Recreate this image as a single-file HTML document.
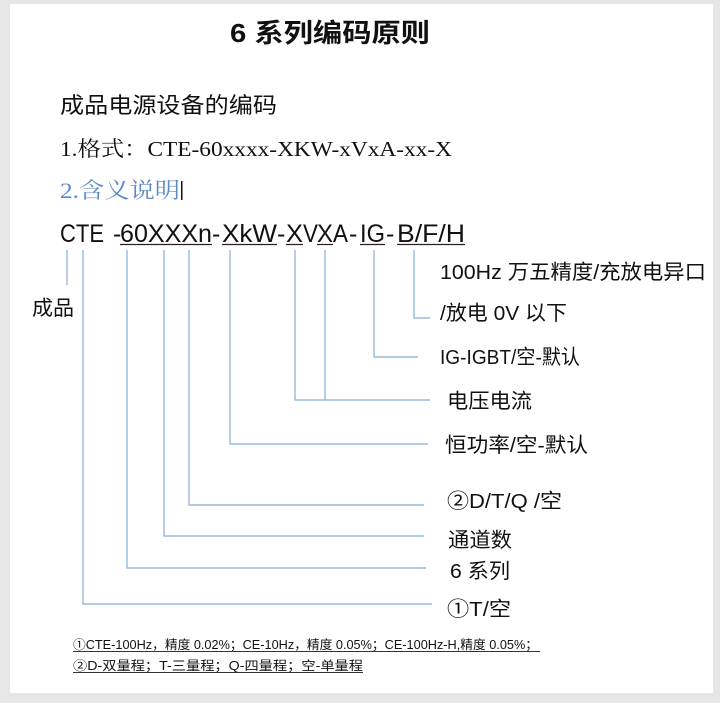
<!DOCTYPE html>
<html><head><meta charset="utf-8"><style>
body{margin:0;background:#e6e6e6;}
svg{display:block}
text{font-family:"Liberation Sans","Noto Sans CJK SC",sans-serif;fill:#111}
</style></head><body>
<svg width="720" height="703" viewBox="0 0 720 703" xmlns="http://www.w3.org/2000/svg">
<rect x="0" y="0" width="720" height="703" fill="#e6e6e6"/>
<rect x="10" y="4" width="703" height="689" fill="#fff"/>
<text x="230" y="42" font-size="26" font-weight="bold" textLength="200" lengthAdjust="spacingAndGlyphs">6 系列编码原则</text>
<text x="60" y="113" font-size="22" textLength="217" lengthAdjust="spacingAndGlyphs">成品电源设备的编码</text>
<text x="60" y="156" font-size="21" style="font-family:'Liberation Serif','Noto Serif CJK SC',serif" textLength="392" lengthAdjust="spacingAndGlyphs">1.格式：CTE-60xxxx-XKW-xVxA-xx-X</text>
<text x="60" y="198" font-size="22" style="font-family:'Liberation Serif','Noto Serif CJK SC',serif;fill:#5b8ac4" textLength="120" lengthAdjust="spacingAndGlyphs">2.含义说明</text>
<rect x="181" y="181" width="1.5" height="19" fill="#111"/>
<g font-size="25">
<text x="60" y="242" textLength="44" lengthAdjust="spacingAndGlyphs">CTE</text>
<text x="113" y="242">-</text>
<text x="120" y="242" textLength="92" lengthAdjust="spacingAndGlyphs">60XXXn</text>
<text x="212" y="242">-</text>
<text x="222" y="242" textLength="55" lengthAdjust="spacingAndGlyphs">XkW</text>
<text x="277" y="242">-</text>
<text x="286" y="242" textLength="17" lengthAdjust="spacingAndGlyphs">X</text>
<text x="303" y="242" textLength="15" lengthAdjust="spacingAndGlyphs">V</text>
<text x="317" y="242" textLength="16" lengthAdjust="spacingAndGlyphs">X</text>
<text x="333" y="242" textLength="15" lengthAdjust="spacingAndGlyphs">A</text>
<text x="349" y="242">-</text>
<text x="360" y="242" textLength="25" lengthAdjust="spacingAndGlyphs">IG</text>
<text x="386" y="242">-</text>
<text x="397" y="242" textLength="68" lengthAdjust="spacingAndGlyphs">B/F/H</text>
</g>
<g stroke="#222" stroke-width="1.2">
<line x1="120" y1="244.5" x2="212" y2="244.5"/>
<line x1="222" y1="244.5" x2="277" y2="244.5"/>
<line x1="286" y1="244.5" x2="303" y2="244.5"/>
<line x1="317" y1="244.5" x2="333" y2="244.5"/>
<line x1="360" y1="244.5" x2="385" y2="244.5"/>
<line x1="397" y1="244.5" x2="465" y2="244.5"/>
</g>
<g stroke="#86acd8" stroke-width="1.2" fill="none">
<line x1="67" y1="250" x2="67" y2="285"/>
<polyline points="83,250 83,604 432,604"/>
<polyline points="127,250 127,568 426,568"/>
<polyline points="164,250 164,536 424,536"/>
<polyline points="189,250 189,505 424,505"/>
<polyline points="230,250 230,444 428,444"/>
<polyline points="295,250 295,400 430,400"/>
<line x1="325" y1="250" x2="325" y2="400"/>
<polyline points="374,250 374,357 418,357"/>
<polyline points="414,250 414,318 430,318"/>
</g>
<g font-size="20.5">
<text x="32" y="315" textLength="42" lengthAdjust="spacingAndGlyphs">成品</text>
<text x="440" y="279" textLength="266" lengthAdjust="spacingAndGlyphs">100Hz 万五精度/充放电异口</text>
<text x="440" y="320" textLength="127" lengthAdjust="spacingAndGlyphs">/放电 0V 以下</text>
<text x="440" y="364" textLength="140" lengthAdjust="spacingAndGlyphs">IG-IGBT/空-默认</text>
<text x="447" y="408" textLength="85" lengthAdjust="spacingAndGlyphs">电压电流</text>
<text x="445" y="452" textLength="143" lengthAdjust="spacingAndGlyphs">恒功率/空-默认</text>
<text x="447" y="508" textLength="115" lengthAdjust="spacingAndGlyphs">②D/T/Q /空</text>
<text x="448" y="547" textLength="64" lengthAdjust="spacingAndGlyphs">通道数</text>
<text x="450" y="578" textLength="60" lengthAdjust="spacingAndGlyphs">6 系列</text>
<text x="447" y="616" textLength="64" lengthAdjust="spacingAndGlyphs">①T/空</text>
</g>
<g font-size="12.5">
<text x="73" y="649" textLength="465" lengthAdjust="spacingAndGlyphs">①CTE-100Hz，精度 0.02%；CE-10Hz，精度 0.05%；CE-100Hz-H,精度 0.05%；</text>
<text x="73" y="670" textLength="290" lengthAdjust="spacingAndGlyphs">②D-双量程；T-三量程；Q-四量程；空-单量程</text>
</g>
<g stroke="#333" stroke-width="1">
<line x1="73" y1="651.5" x2="540" y2="651.5"/>
<line x1="73" y1="672.5" x2="363" y2="672.5"/>
</g>
</svg>
</body></html>
